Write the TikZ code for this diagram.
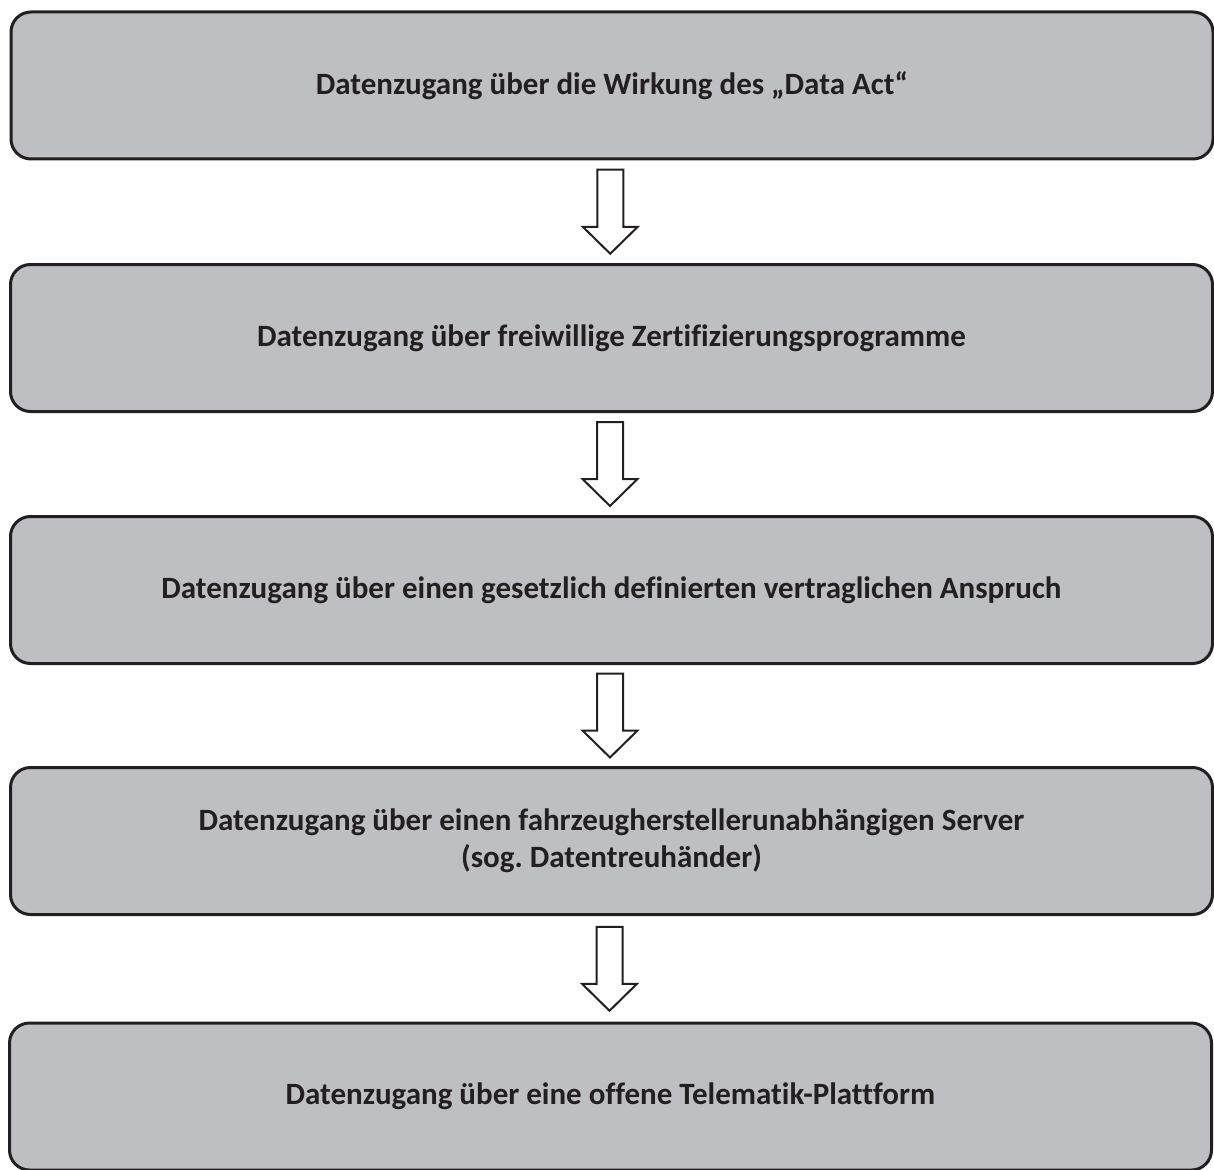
\documentclass[tikz,border=0pt]{standalone}
\usepackage{fontspec}
\setmainfont{Carlito}[Ligatures=NoCommon]
\usetikzlibrary{calc}
\definecolor{boxfill}{RGB}{190,191,195}
\definecolor{ink}{RGB}{35,31,32}
\tikzset{
  stage/.style={draw=ink, line width=3pt, fill=boxfill, rounded corners=20pt,
    minimum width=1202pt, minimum height=147pt, inner sep=0pt, align=center,
    text=ink, font=\fontsize{31}{37}\selectfont\bfseries\frenchspacing},
  arrowstyle/.style={draw=ink, line width=2pt, fill=white, line join=miter},
  downarrow/.pic={\path[arrowstyle] (-13,-42) -- (13,-42) -- (13,15) -- (27.5,15)
    -- (0,42) -- (-27.5,15) -- (-13,15) -- cycle;}
}
\begin{document}
\begin{tikzpicture}[x=1pt,y=-1pt]
\useasboundingbox (0,0) rectangle (1214,1169);
\node[stage] (b1) at (612,85.5) {Datenzugang über die Wirkung des „Data Act“};
\node[stage] (b2) at (611.5,338) {Datenzugang über freiwillige Zertifizierungsprogramme};
\node[stage] (b3) at (611.5,590) {Datenzugang über einen gesetzlich definierten vertraglichen Anspruch};
\node[stage] (b4) at (611.5,841) {Datenzugang über einen fahrzeugherstellerunabhängigen Server\\(sog. Datentreuhänder)};
\node[stage] (b5) at (610.5,1096.5) {Datenzugang über eine offene Telematik-Plattform};
\foreach \u/\l in {b1/b2,b2/b3,b3/b4,b4/b5}
  \pic at ($(\u.south)!0.5!(\l.north)+(-1.5,0)$) {downarrow};
\end{tikzpicture}
\end{document}
